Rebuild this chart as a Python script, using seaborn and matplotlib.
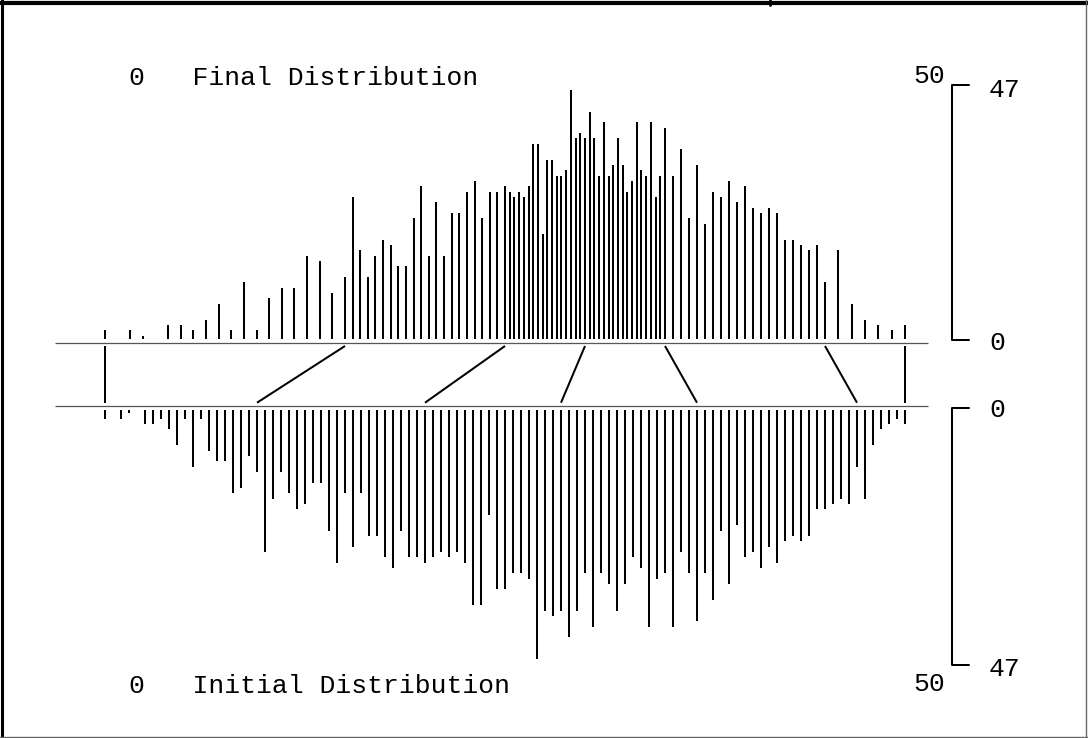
import numpy as np
import matplotlib
matplotlib.use("Agg")
import matplotlib.pyplot as plt
from matplotlib.lines import Line2D
import seaborn as sns

# --- data ---
# bin centres of the initial histogram (0.5 apart, 0.5 and 2.0 are empty)
initial_pos = [0.0, 1.0, 1.5, 2.5, 3.0, 3.5, 4.0, 4.5, 5.0, 5.5, 6.0, 6.5, 7.0, 7.5, 8.0,
               8.5, 9.0, 9.5, 10.0, 10.5, 11.0, 11.5, 12.0, 12.5, 13.0, 13.5, 14.0, 14.5,
               15.0, 15.5, 16.0, 16.5, 17.0, 17.5, 18.0, 18.5, 19.0, 19.5, 20.0, 20.5,
               21.0, 21.5, 22.0, 22.5, 23.0, 23.5, 24.0, 24.5, 25.0, 25.5, 26.0, 26.5,
               27.0, 27.5, 28.0, 28.5, 29.0, 29.5, 30.0, 30.5, 31.0, 31.5, 32.0, 32.5,
               33.0, 33.5, 34.0, 34.5, 35.0, 35.5, 36.0, 36.5, 37.0, 37.5, 38.0, 38.5,
               39.0, 39.5, 40.0, 40.5, 41.0, 41.5, 42.0, 42.5, 43.0, 43.5, 44.0, 44.5,
               45.0, 45.5, 46.0, 46.5, 47.0, 47.5, 48.0, 48.5, 49.0, 49.5, 50.0]

# same bins after the mapping (final distribution)
final_pos = [0.00, 1.58, 2.37, 3.95, 4.74, 5.53, 6.32, 7.11, 7.89, 8.68, 9.47, 10.26, 11.05,
             11.84, 12.63, 13.42, 14.21, 15.00, 15.48, 15.95, 16.43, 16.90, 17.38, 17.86,
             18.33, 18.81, 19.29, 19.76, 20.24, 20.71, 21.19, 21.67, 22.14, 22.62, 23.10,
             23.57, 24.05, 24.52, 25.00, 25.29, 25.59, 25.88, 26.18, 26.47, 26.76, 27.06,
             27.35, 27.65, 27.94, 28.24, 28.53, 28.82, 29.12, 29.41, 29.71, 30.00, 30.29,
             30.59, 30.88, 31.18, 31.47, 31.76, 32.06, 32.35, 32.65, 32.94, 33.24, 33.53,
             33.82, 34.12, 34.41, 34.71, 35.00, 35.50, 36.00, 36.50, 37.00, 37.50, 38.00,
             38.50, 39.00, 39.50, 40.00, 40.50, 41.00, 41.50, 42.00, 42.50, 43.00, 43.50,
             44.00, 44.50, 45.00, 45.83, 46.67, 47.50, 48.33, 49.17, 50.00]

counts = [2, 2, 1, 3, 3, 2, 4, 7, 2, 11, 2, 8, 10, 10, 16, 15, 9, 12, 27, 17, 12, 16, 19,
          18, 14, 14, 23, 29, 16,
          26, 16, 24, 24, 28, 30, 23, 28, 28, 29, 28, 27, 28, 27, 29, 37, 37, 20, 34, 34,
          31, 31, 32, 47, 38, 39, 38, 43, 38, 31, 41, 31, 33, 38, 33, 28,
          30, 41, 32, 31, 41, 27, 31, 40, 31, 36, 23, 33, 22, 28, 27, 30, 26, 29, 25, 24,
          25, 24, 19, 19, 18, 17, 18, 11, 17, 7, 4, 3, 2, 3]

# mapping lines drawn between the two histograms
initial_knots = [0, 9.5, 20, 28.5, 37, 47, 50]
final_knots = [0, 15, 25, 30, 35, 45, 50]

y_max = 47
x_min, x_max = 0, 50

# --- layout (pixels of the 1088x738 picture) ---
W, H = 1088, 738
X0, SX = 105, 16.0      # pixel of x=0, pixels per unit
Y0, SY = 343.3, 5.33    # pixel of top baseline, pixels per count


def px(x):
    return (x - X0) / SX


def py(y):
    return (Y0 - y) / SY


OFF = (Y0 - 405.7) / SY  # bottom baseline (negative)
GAP = 0.72
TIP = 0.45

sns.set_theme(style="white")
plt.rcParams["font.family"] = ["Liberation Mono", "DejaVu Sans Mono"]

fig = plt.figure(figsize=(W / 100, H / 100), dpi=100)
ax = fig.add_axes([0, 0, 1, 1])
ax.set_xlim(px(0), px(W))
ax.set_ylim(py(H), py(0))
ax.set_axis_off()

cnt = np.array(counts, dtype=float)

# final distribution (upwards)
ax.vlines(final_pos, GAP, cnt + TIP, color="black", lw=1.45, capstyle="butt")
# initial distribution (downwards)
ax.vlines(initial_pos, OFF - GAP, OFF - TIP - cnt, color="black", lw=1.45, capstyle="butt")

# baselines
ax.hlines([0, OFF], px(55), px(928), color="#555555", lw=0.9)

# mapping lines
for a, b in zip(initial_knots, final_knots):
    ax.plot([b, a], [py(346), py(402.7)], color="black", lw=1.45, solid_capstyle="butt")

# scale brackets
bx, bt = px(952), px(969)
for top, bot in [(py(85), py(340)), (py(408), py(665))]:
    ax.plot([bt, bx, bx, bt], [top, top, bot, bot], color="black", lw=1.45)

fs = 19
ax.text(px(129), py(85), f"{x_min}   Final Distribution", fontsize=fs, color="black", va="baseline")
ax.text(px(913), py(83), str(x_max), fontsize=fs, color="black", va="baseline")
ax.text(px(129), py(693), f"{x_min}   Initial Distribution", fontsize=fs, color="black", va="baseline")
ax.text(px(913), py(691), str(x_max), fontsize=fs, color="black", va="baseline")

for label, ypix in [(str(y_max), 97), ("0", 350), ("0", 417), (str(y_max), 676)]:
    ax.text(px(989), py(ypix), label, fontsize=fs, color="black", va="baseline")

# window frame around the picture
def frame(x0, y0, x1, y1, color, lw):
    fig.add_artist(Line2D([x0 / W, x1 / W], [1 - y0 / H, 1 - y1 / H],
                          transform=fig.transFigure, color=color, lw=lw))

frame(0, 0.5, W, 0.5, "#777777", 0.8)
frame(0, 3, W, 3, "black", 3.0)
frame(2, 0, 2, H, "black", 2.2)
frame(W - 2, 0, W - 2, H, "#666666", 1.0)
frame(0, H - 1.5, W, H - 1.5, "#666666", 1.0)
frame(770, 0, 770, 5, "black", 2.0)

fig.savefig("out.png", dpi=100)
